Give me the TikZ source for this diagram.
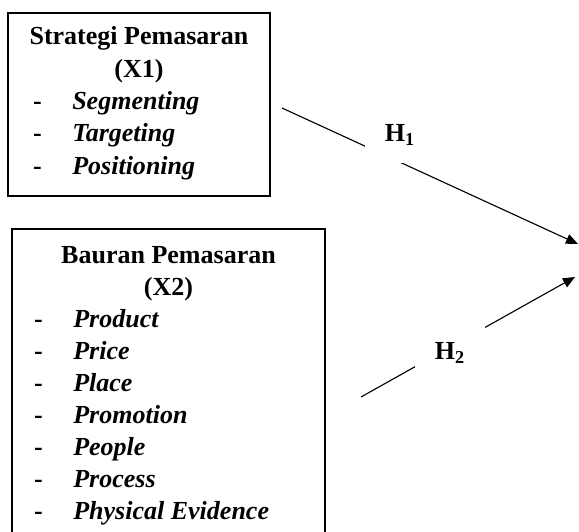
\documentclass[tikz,border=0pt]{standalone}
\usepackage{fontspec}
\setmainfont{Liberation Serif}[BoldItalicFont={Liberation Serif Bold Italic}]
\usetikzlibrary{arrows.meta}

\tikzset{
  kotak/.style={draw, line width=0.8pt},
  judul/.style={font=\fontsize{18.5}{20}\selectfont\bfseries, anchor=base, inner sep=0pt},
  strip/.style={font=\fontsize{18.5}{20}\selectfont\bfseries, anchor=base, inner sep=0pt},
  butir/.style={font=\fontsize{18.5}{20}\selectfont\bfseries\itshape, anchor=base west, inner sep=0pt},
  hipotesis/.style={fill=white, font=\fontsize{18.5}{20}\selectfont\bfseries,
    minimum width=1.75cm, minimum height=1.4cm},
  panah/.style={->, line width=0.8pt},
  >={Triangle[length=0.3cm, width=0.25cm]}
}

\begin{document}
\begin{tikzpicture}[x=0.025cm, y=-0.025cm]
  \useasboundingbox (0,0) rectangle (579,532);
  \clip (0,0) rectangle (579,532);

  % X1
  \draw[kotak] (8,13) rectangle (270,196);
  \node[judul] (x1a) at (139,45) {Strategi Pemasaran};
  \node[judul] (x1b) at (139,77) {(X1)};
  \foreach \w [count=\i] in {Segmenting,Targeting,Positioning}{
    \node[strip] (sa\i) at (37.5,{77+32.5*\i}) {-};
    \node[butir] (ia\i) at (72,{77+32.5*\i}) {\w};
  }

  % X2
  \draw[kotak] (12,229) rectangle (325,560);
  \node[judul] (x2a) at (168.5,263) {Bauran Pemasaran};
  \node[judul] (x2b) at (168.5,295) {(X2)};
  \foreach \w [count=\i] in {Product,Price,Place,Promotion,People,Process,Physical Evidence}{
    \node[strip] (sb\i) at (38.5,{295+32*\i}) {-};
    \node[butir] (ib\i) at (73,{295+32*\i}) {\w};
  }

  % arrows
  \coordinate (a1) at (282,108);
  \coordinate (y1) at (578,244);
  \coordinate (a2) at (361,397);
  \coordinate (y2) at (575,277);
  \draw[panah] (a1) -- (y1);
  \draw[panah] (a2) -- (y2);

  \node[hipotesis] (h1) at (400,135) {H\textsubscript{1}};
  \node[hipotesis] (h2) at (450,353) {H\textsubscript{2}};
\end{tikzpicture}
\end{document}
